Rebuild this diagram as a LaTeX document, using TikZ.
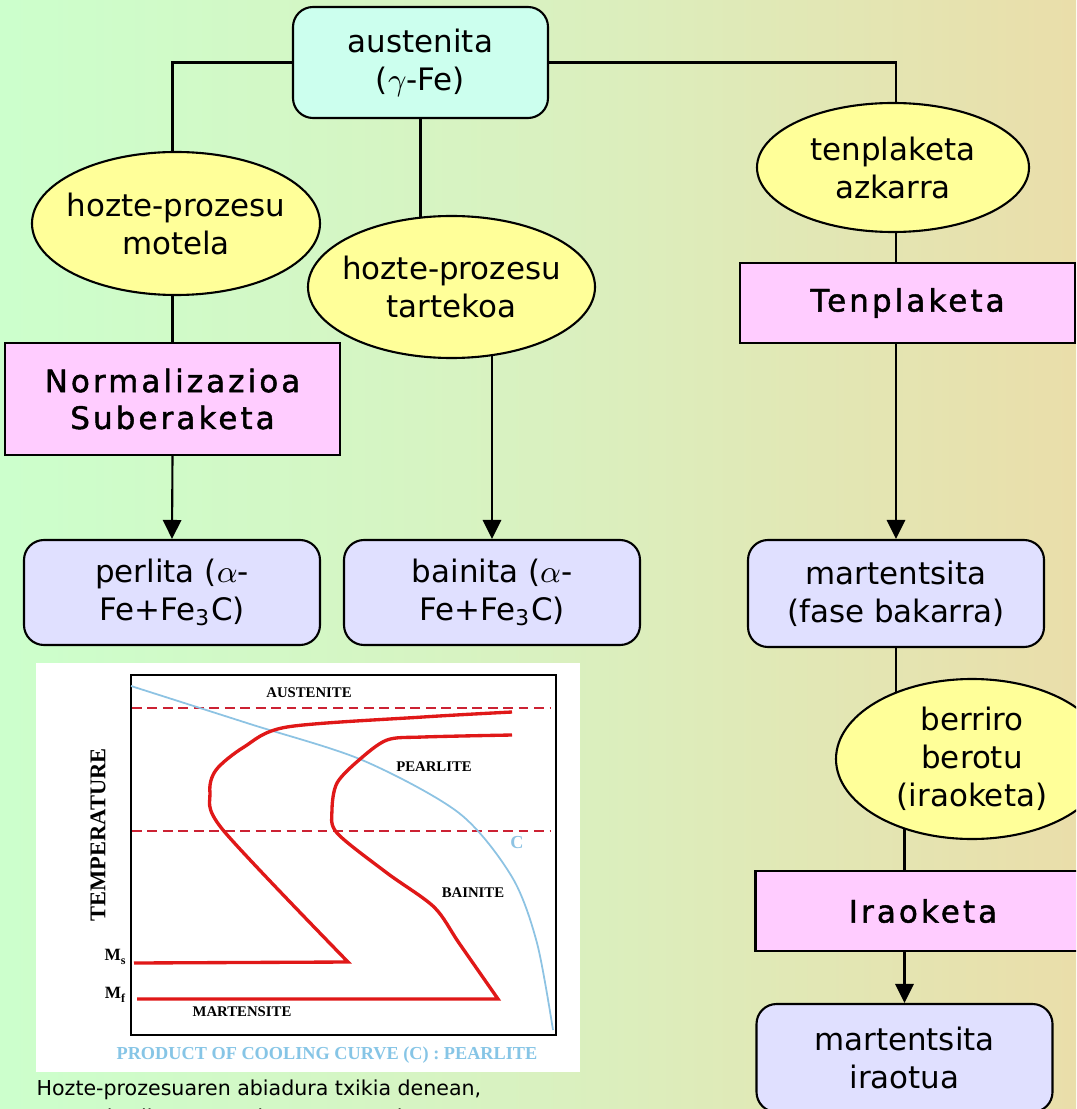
\documentclass[tikz,border=0pt]{standalone}
\usepackage{fontspec}
\setmainfont{DejaVu Sans}
\newfontfamily\stepfont[LetterSpace=10,FakeBold=1.5]{DejaVu Sans}
\newfontfamily\plotfont{Liberation Serif}
\usetikzlibrary{shapes}
\usetikzlibrary{calc}
\usetikzlibrary{arrows.meta}
\pgfdeclarelayer{bg}
\pgfsetlayers{bg,main}
\definecolor{bgleft}{HTML}{CCFFCC}
\definecolor{bgmid}{HTML}{D9F1C0}
\definecolor{bgright}{HTML}{EADEAA}
\definecolor{startfill}{HTML}{CCFFEE}
\definecolor{speedfill}{HTML}{FFFF99}
\definecolor{stepfill}{HTML}{FFCCFF}
\definecolor{endfill}{HTML}{E0E0FF}
\definecolor{ttred}{HTML}{E01818}
\definecolor{ttdash}{HTML}{CC2233}
\definecolor{ttblue}{HTML}{8DC3E3}
\definecolor{ttcaption}{HTML}{86C5E6}

\begin{document}
\begin{tikzpicture}[
  every node/.style={font=\fontsize{8.8}{10.8}\selectfont, align=center, inner sep=0pt},
  startbox/.style={draw, line width=0.6pt, rounded corners=0.2cm, fill=startfill, minimum width=2.55cm, minimum height=1.11cm},
  endbox/.style={draw, line width=0.6pt, rounded corners=0.2cm, fill=endfill, minimum width=2.96cm, minimum height=1.05cm},
  stepbox/.style={draw, line width=0.6pt, fill=stepfill, minimum width=3.35cm, minimum height=1.12cm, font=\stepfont\fontsize{8.8}{10.5}\selectfont},
  speedell/.style={draw, ellipse, line width=0.6pt, fill=speedfill, inner sep=-1cm},
  conn/.style={line width=0.6pt},
  arr/.style={conn, -{Triangle[width=5.2pt,length=5.4pt]}},
  plotlabel/.style={font=\plotfont\bfseries\fontsize{4.2}{5}\selectfont},
  ttdashed/.style={draw=ttdash, line width=0.55pt, dash pattern=on 2.8pt off 1.6pt},
  ttcurve/.style={draw=ttred, line width=0.95pt}]
  \useasboundingbox (0,0) rectangle (10.76,-11.09);
  \clip (0,0) rectangle (10.76,-11.09);

  \node[startbox] (austenita) at (4.205,-0.625) {austenita\\($\gamma$-Fe)};

  \node[speedell, minimum width=2.88cm, minimum height=1.43cm] (motela) at (1.76,-2.235) {hozte-prozesu\\motela};
  \node[speedell, minimum width=2.87cm, minimum height=1.42cm] (tartekoa) at (4.515,-2.87) {hozte-prozesu\\tartekoa};
  \node[speedell, minimum width=2.72cm, minimum height=1.29cm] (azkarra) at (8.93,-1.675) {tenplaketa\\azkarra};
  \node[speedell, minimum width=2.72cm, minimum height=1.60cm] (berotu) at (9.72,-7.59) {berriro\\berotu\\(iraoketa)};

  \node[stepbox] (normbox) at (1.725,-3.99) {Normalizazioa\\Suberaketa};
  \node[stepbox, minimum height=0.8cm] (tenp) at (9.075,-3.03) {Tenplaketa};
  \node[stepbox, minimum height=0.8cm] (iraoketa) at (9.23,-9.11) {Iraoketa};

  \node[endbox] (perlita) at (1.72,-5.925) {perlita ($\alpha$-\\Fe+Fe\textsubscript{3}C)};
  \node[endbox] (bainita) at (4.92,-5.925) {bainita ($\alpha$-\\Fe+Fe\textsubscript{3}C)};
  \node[endbox, minimum height=1.07cm] (mart) at (8.96,-5.935) {martentsita\\(fase bakarra)};
  \node[endbox, minimum height=1.08cm] (iraotua) at (9.045,-10.58) {martentsita\\iraotua};

  \begin{pgfonlayer}{bg}
    \fill[left color=bgleft, right color=bgright, middle color=bgmid] (0,0) rectangle (10.76,-11.09);
    \draw[conn] (austenita.west) -| (normbox.north);
    \draw[conn] (austenita.south) -- (austenita.south |- tartekoa.center);
    \draw[conn] (austenita.east) -| (mart.north |- tenp.north);
    \draw[arr] (normbox.south) -- (perlita.north);
    \draw[arr] (bainita.north |- tartekoa.center) -- (bainita.north);
    \draw[arr] (mart.north |- tenp.south) -- (mart.north);
    \draw[conn] (mart.south) -- (mart.south |- berotu.center);
    \draw[conn] (iraotua.north |- berotu.center) -- (iraotua.north |- iraoketa.north);
    \draw[arr] (iraotua.north |- iraoketa.south) -- (iraotua.north);
  \end{pgfonlayer}

  % cooling curve picture
  \fill[white] (0.36,-6.63) rectangle (5.80,-10.72);
  \draw[line width=0.75pt] (1.31,-6.75) rectangle (5.56,-10.35);
  \draw[ttdashed] (1.32,-7.08) -- (5.50,-7.08);
  \draw[ttdashed] (1.32,-8.31) -- (5.50,-8.31);
  \draw[ttblue, line width=0.5pt] plot[smooth] coordinates {(1.31,-6.86) (2.50,-7.24) (3.62,-7.60) (4.59,-8.13) (5.12,-8.77) (5.37,-9.43) (5.53,-10.30)};
  \draw[ttcurve] plot[smooth] coordinates {(5.12,-7.12) (4.23,-7.17) (2.87,-7.27) (2.44,-7.47) (2.16,-7.70) (2.10,-7.93) (2.23,-8.30) (3.48,-9.62)} -- (1.34,-9.63);
  \draw[ttcurve] plot[smooth] coordinates {(5.12,-7.35) (4.23,-7.37) (3.87,-7.40) (3.59,-7.60) (3.37,-7.83) (3.32,-8.10) (3.37,-8.33) (3.87,-8.73) (4.34,-9.07) (4.59,-9.43) (4.98,-9.99)} -- (1.37,-9.99);

  \node[plotlabel] (austenite) at (3.09,-6.93) {AUSTENITE};
  \node[plotlabel] (pearlite) at (4.34,-7.67) {PEARLITE};
  \node[plotlabel] (bainite) at (4.73,-8.93) {BAINITE};
  \node[plotlabel] (martensite) at (2.42,-10.12) {MARTENSITE};
  \node[plotlabel, font=\plotfont\bfseries\fontsize{6.4}{7}\selectfont, rotate=90] (temperature) at (0.98,-8.35) {TEMPERATURE};
  \node[plotlabel, font=\plotfont\bfseries\fontsize{4.9}{5.5}\selectfont] (ms) at (1.16,-9.57) {M\textsubscript{s}};
  \node[plotlabel, font=\plotfont\bfseries\fontsize{4.9}{5.5}\selectfont] (mf) at (1.16,-9.95) {M\textsubscript{f}};
  \node[plotlabel, text=ttblue, font=\plotfont\bfseries\fontsize{5.2}{6}\selectfont] (ccurve) at (5.17,-8.43) {C};
  \node[plotlabel, text=ttcaption, font=\plotfont\bfseries\fontsize{5.2}{6}\selectfont] (product) at (3.27,-10.55) {PRODUCT OF COOLING CURVE (C) : PEARLITE};

  \node[anchor=north west, align=left, font=\fontsize{5.85}{8.2}\selectfont] (caption) at (0.36,-10.79) {Hozte-prozesuaren abiadura txikia denean,\\austenitatik eratzen da PERLITA egitura};
\end{tikzpicture}
\end{document}
